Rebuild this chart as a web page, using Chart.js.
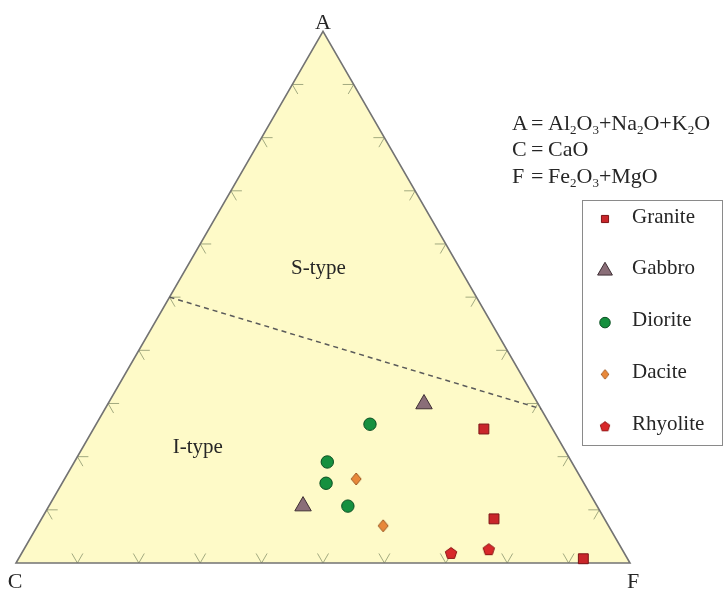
<!DOCTYPE html>
<html>
<head>
<meta charset="utf-8">
<title>ACF diagram</title>
<script src="https://cdn.jsdelivr.net/npm/chart.js@4.4.1/dist/chart.umd.min.js"></script>
<style>
  html, body { margin: 0; padding: 0; background: #fff; }
  canvas { display: block; }
</style>
</head>
<body>
<canvas id="acf" width="724" height="589"></canvas>
<script>
// Compositions in % as [A, C, F]
const vertexNames = ['A', 'C', 'F'];
const rockTypes = ['Granite', 'Gabbro', 'Diorite', 'Dacite', 'Rhyolite'];
const granite  = [[25.2, 11.2, 63.6], [8.3, 18.0, 73.7], [0.8, 7.2, 92.0]];
const gabbro   = [[29.9, 18.6, 51.5], [10.7, 47.9, 41.4]];
const diorite  = [[26.1, 29.3, 44.6], [19.0, 39.8, 41.2], [15.0, 42.0, 43.0], [10.7, 40.6, 48.7]];
const dacite   = [[15.8, 36.7, 47.5], [7.0, 36.7, 56.3]];
const rhyolite = [[1.9, 28.2, 69.9], [2.6, 21.7, 75.7]];
// I-type / S-type boundary, [A, C, F]
const boundary = [[50, 50, 0], [29, 0, 71]];
// Tick positions along each side, in %
const tickSteps = [10, 20, 30, 40, 50, 60, 70, 80, 90];
const fieldNames = ['S-type', 'I-type'];
const formulaLines = [
  ['A', 'Al_2O_3+Na_2O+K_2O'],
  ['C', 'CaO'],
  ['F', 'Fe_2O_3+MgO']
];

const H = Math.sqrt(3) / 2;
const SERIF = '"Liberation Serif", "Times New Roman", serif';

// Ternary [A, C, F] -> cartesian, C at the origin, F at (1, 0), A at the apex
function toXY(p) {
  const s = p[0] + p[1] + p[2];
  const a = p[0] / s, f = p[2] / s;
  return { x: f + a / 2, y: a * H };
}

function makeMarker(w, h, path, fill, stroke) {
  const c = document.createElement('canvas');
  c.width = w; c.height = h;
  const g = c.getContext('2d');
  g.beginPath();
  path(g);
  g.closePath();
  g.fillStyle = fill; g.fill();
  g.lineWidth = 1; g.strokeStyle = stroke; g.stroke();
  return c;
}

const diamondMarker = makeMarker(12, 14, g => {
  g.moveTo(6, 1); g.lineTo(11, 7); g.lineTo(6, 13); g.lineTo(1, 7);
}, '#e8883a', '#9a5520');

const pentagonMarker = makeMarker(14, 14, g => {
  for (let i = 0; i < 5; i++) {
    const t = -Math.PI / 2 + i * 2 * Math.PI / 5;
    const px = 7 + 6 * Math.cos(t), py = 7.6 + 6 * Math.sin(t);
    if (i === 0) g.moveTo(px, py); else g.lineTo(px, py);
  }
}, '#d8282a', '#8a1414');

const pointSets = [granite, gabbro, diorite, dacite, rhyolite];
const styles = [
  { pointStyle: 'rect', pointRadius: 7, backgroundColor: '#c9262a', borderColor: '#7c1416', legendScale: 0.72 },
  { pointStyle: 'triangle', pointRadius: 9.5, backgroundColor: '#8a6e78', borderColor: '#3f2f35', legendScale: 0.9 },
  { pointStyle: 'circle', pointRadius: 6.2, backgroundColor: '#16903f', borderColor: '#0b4f22', legendScale: 0.85 },
  { pointStyle: diamondMarker, pointRadius: 6, backgroundColor: '#e8883a', borderColor: '#9a5520', legendScale: 0.8 },
  { pointStyle: pentagonMarker, pointRadius: 6, backgroundColor: '#d8282a', borderColor: '#8a1414', legendScale: 0.85 }
];

const datasets = rockTypes.map((name, i) => Object.assign({
  label: name,
  data: pointSets[i].map(toXY),
  borderWidth: 1,
  clip: false,
  order: 0
}, styles[i]));

datasets.push({
  label: 'boundary',
  type: 'line',
  data: boundary.map(toXY),
  borderColor: '#5a5a5a',
  borderWidth: 1.5,
  borderDash: [5, 4],
  pointRadius: 0,
  fill: false,
  clip: false,
  order: 10
});

function drawRich(ctx, str, x, y, size) {
  let cx = x;
  for (let i = 0; i < str.length; i++) {
    const ch = str[i];
    if (ch === '_' && i + 1 < str.length) {
      const sub = str[++i];
      ctx.font = Math.round(size * 0.6) + 'px ' + SERIF;
      ctx.fillText(sub, cx, y + size * 0.2);
      cx += ctx.measureText(sub).width;
    } else {
      ctx.font = size + 'px ' + SERIF;
      ctx.fillText(ch, cx, y);
      cx += ctx.measureText(ch).width;
    }
  }
}

function drawLegendMarker(ctx, ds, x, y) {
  const s = ds.legendScale;
  const st = ds.pointStyle;
  ctx.save();
  ctx.fillStyle = ds.backgroundColor;
  ctx.strokeStyle = ds.borderColor;
  ctx.lineWidth = 1;
  if (typeof st !== 'string') {
    ctx.drawImage(st, x - st.width * s / 2, y - st.height * s / 2, st.width * s, st.height * s);
  } else {
    const r = ds.pointRadius * s;
    ctx.beginPath();
    if (st === 'rect') {
      const h = r * Math.SQRT1_2;
      ctx.rect(x - h, y - h, 2 * h, 2 * h);
    } else if (st === 'triangle') {
      ctx.moveTo(x, y - r);
      ctx.lineTo(x + r * H, y + r / 2);
      ctx.lineTo(x - r * H, y + r / 2);
      ctx.closePath();
    } else {
      ctx.arc(x, y, r, 0, Math.PI * 2);
    }
    ctx.fill();
    ctx.stroke();
  }
  ctx.restore();
}

const acfFrame = {
  id: 'acfFrame',
  beforeDatasetsDraw(chart) {
    const { ctx, scales: { x, y } } = chart;
    const P = p => { const q = toXY(p); return [x.getPixelForValue(q.x), y.getPixelForValue(q.y)]; };
    const A = P([100, 0, 0]), C = P([0, 100, 0]), F = P([0, 0, 100]);
    ctx.save();
    ctx.beginPath();
    ctx.moveTo(...C); ctx.lineTo(...F); ctx.lineTo(...A); ctx.closePath();
    ctx.fillStyle = '#fefac8';
    ctx.fill();

    // tick marks: two short strokes into the triangle, parallel to the other sides
    const L = 11, c60 = 0.5, s60 = H;
    ctx.strokeStyle = 'rgba(140,150,110,0.8)';
    ctx.lineWidth = 1;
    const arm = (p, dx, dy) => { ctx.moveTo(p[0], p[1]); ctx.lineTo(p[0] + dx * L, p[1] + dy * L); };
    ctx.beginPath();
    tickSteps.forEach(t => {
      const b = P([0, 100 - t, t]);
      arm(b, c60, -s60); arm(b, -c60, -s60);
      const l = P([t, 100 - t, 0]);
      arm(l, 1, 0); arm(l, c60, s60);
      const r = P([t, 0, 100 - t]);
      arm(r, -1, 0); arm(r, -c60, s60);
    });
    ctx.stroke();

    ctx.beginPath();
    ctx.moveTo(...C); ctx.lineTo(...F); ctx.lineTo(...A); ctx.closePath();
    ctx.strokeStyle = '#737373';
    ctx.lineWidth = 1.6;
    ctx.lineJoin = 'miter';
    ctx.stroke();
    ctx.restore();
  },
  afterDatasetsDraw(chart) {
    const { ctx, scales: { x, y } } = chart;
    const P = p => { const q = toXY(p); return [x.getPixelForValue(q.x), y.getPixelForValue(q.y)]; };
    ctx.save();
    ctx.fillStyle = '#262626';

    // corner labels
    ctx.font = '22px ' + SERIF;
    ctx.textAlign = 'center';
    ctx.textBaseline = 'alphabetic';
    const A = P([100, 0, 0]), C = P([0, 100, 0]), F = P([0, 0, 100]);
    ctx.fillText(vertexNames[0], A[0], A[1] - 2);
    ctx.fillText(vertexNames[1], C[0] - 1, C[1] + 25);
    ctx.fillText(vertexNames[2], F[0] + 3, F[1] + 25);

    // field names
    ctx.font = '21px ' + SERIF;
    ctx.textBaseline = 'middle';
    const sPos = P([55.3, 23.1, 21.6]);
    const iPos = P([21.8, 59.5, 18.7]);
    ctx.fillText(fieldNames[0], sPos[0], sPos[1]);
    ctx.fillText(fieldNames[1], iPos[0], iPos[1]);

    // oxide definitions
    ctx.textAlign = 'left';
    ctx.textBaseline = 'alphabetic';
    formulaLines.forEach((ln, i) => {
      const by = 129.5 + i * 26.5;
      ctx.font = '22px ' + SERIF;
      ctx.fillText(ln[0], 512, by);
      ctx.fillText('=', 531, by);
      drawRich(ctx, ln[1], 548, by, 22);
    });

    // legend
    ctx.strokeStyle = '#8a8a8a';
    ctx.lineWidth = 1;
    ctx.strokeRect(582.5, 200.5, 140, 245);
    ctx.font = '21px ' + SERIF;
    ctx.textBaseline = 'middle';
    const sets = chart.data.datasets.filter(d => rockTypes.includes(d.label));
    sets.forEach((ds, i) => {
      const ly = 217 + i * 51.8;
      drawLegendMarker(ctx, ds, 605, ly + 2);
      ctx.fillStyle = '#262626';
      ctx.fillText(ds.label, 632, ly);
    });
    ctx.restore();
  }
};

new Chart(document.getElementById('acf'), {
  type: 'scatter',
  data: { datasets },
  options: {
    responsive: false,
    animation: false,
    events: [],
    layout: { padding: { left: 16, right: 94, top: 31.3, bottom: 26 } },
    scales: {
      x: { type: 'linear', min: 0, max: 1, display: false },
      y: { type: 'linear', min: 0, max: H, display: false }
    },
    plugins: { legend: { display: false }, tooltip: { enabled: false } }
  },
  plugins: [acfFrame]
});
</script>
</body>
</html>
